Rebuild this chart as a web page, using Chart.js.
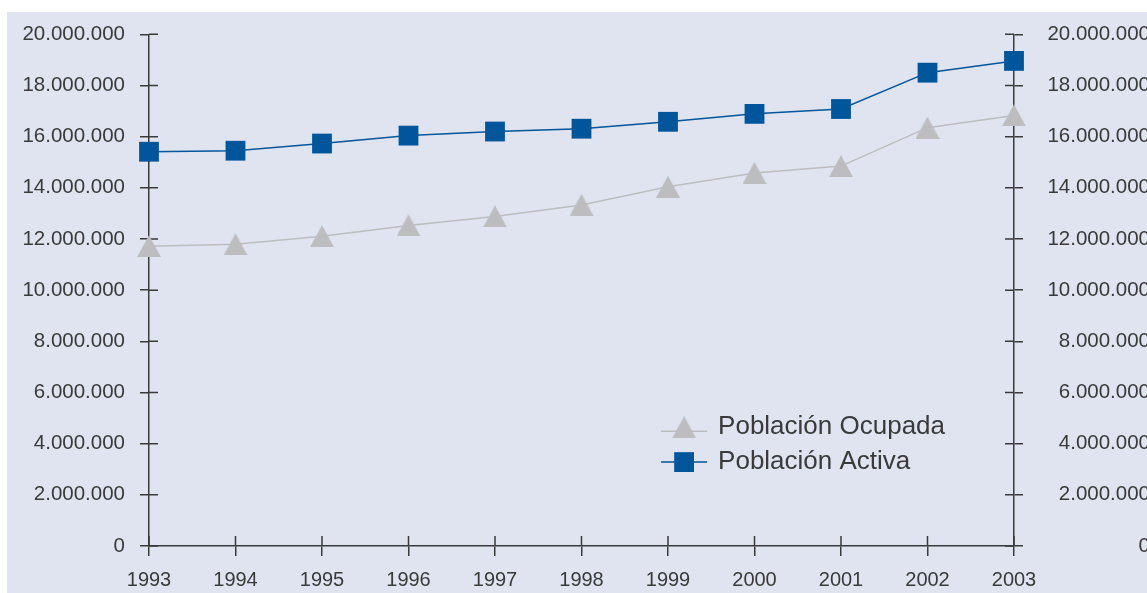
<!DOCTYPE html>
<html>
<head>
<meta charset="utf-8">
<script src="https://cdn.jsdelivr.net/npm/chart.js@4"></script>
<style>
html, body { margin: 0; padding: 0; background: #fff; overflow: hidden; width: 1147px; height: 593px; }
#panel { position: absolute; left: 7px; top: 12px; right: 0; bottom: 0; background: #dfe4f0; }
#chart { position: absolute; left: 0; top: 0; }
</style>
</head>
<body>
<div id="panel"></div>
<canvas id="chart" width="1150" height="593"></canvas>
<script>
const years = ["1993", "1994", "1995", "1996", "1997", "1998", "1999", "2000", "2001", "2002", "2003"]
const ocupada = [11720000, 11790000, 12110000, 12530000, 12880000, 13330000, 14040000, 14580000, 14850000, 16350000, 16830000]
const activa = [15410000, 15450000, 15730000, 16040000, 16200000, 16310000, 16580000, 16890000, 17080000, 18500000, 18960000]
const yMin = 0
const yMax = 20000000
const yStep = 2000000

const blue = "#00559b"
const grey = "#bdbdc0"
const axisColor = "#3a3a3a"
const textColor = "#3a3a3a"

function fmt(v){
  return String(v).replace(/\B(?=(\d{3})+(?!\d))/g, ".")
}

// triangle marker centred on the point (half above, half below the line)
function triangleMarker(color){
  const c = document.createElement("canvas")
  c.width = 24
  c.height = 22
  const g = c.getContext("2d")
  g.fillStyle = color
  g.beginPath()
  g.moveTo(12, 0)
  g.lineTo(24, 22)
  g.lineTo(0, 22)
  g.closePath()
  g.fill()
  return c
}
const triMarker = triangleMarker(grey)

// ticks crossing the axis line (inner half)
const innerTicks = {
  id: "innerTicks",
  beforeDatasetsDraw(chart){
    const ctx = chart.ctx
    const a = chart.chartArea
    ctx.save()
    ctx.strokeStyle = axisColor
    ctx.lineWidth = 1.5
    ctx.beginPath()
    chart.scales.y.ticks.forEach((t, i) => {
      const py = chart.scales.y.getPixelForTick(i)
      ctx.moveTo(a.left, py); ctx.lineTo(a.left + 9, py)
      ctx.moveTo(a.right - 9, py); ctx.lineTo(a.right, py)
    })
    chart.scales.x.ticks.forEach((t, i) => {
      const px = chart.scales.x.getPixelForTick(i)
      ctx.moveTo(px, a.bottom); ctx.lineTo(px, a.bottom - 10)
    })
    ctx.stroke()
    ctx.restore()
  }
}

// legend inside the plot
const innerLegend = {
  id: "innerLegend",
  afterDraw(chart){
    const ctx = chart.ctx
    const a = chart.chartArea
    const lx = a.left + (a.right - a.left) * 0.592
    const rows = [a.top + (a.bottom - a.top) * 0.768, a.top + (a.bottom - a.top) * 0.836]
    const lineShift = [4, 0]
    ctx.save()
    chart.data.datasets.forEach((ds, i) => {
      const y = rows[i]
      ctx.strokeStyle = ds.borderColor
      ctx.lineWidth = 1.5
      ctx.beginPath()
      ctx.moveTo(lx, y + lineShift[i]); ctx.lineTo(lx + 46, y + lineShift[i])
      ctx.stroke()
      ctx.fillStyle = ds.pointBackgroundColor
      Chart.helpers.drawPoint(ctx, {pointStyle: ds.pointStyle, radius: ds.pointRadius, rotation: 0, borderWidth: 0}, lx + 23, y)
      ctx.fillStyle = textColor
      ctx.font = "26px 'Liberation Sans', Arial, sans-serif"
      ctx.textBaseline = "middle"
      ctx.textAlign = "left"
      ctx.fillText(ds.label, lx + 57, y)
    })
    ctx.restore()
  }
}

const tickFont = {family: "'Liberation Sans', Arial, sans-serif", size: 20.5}

new Chart(document.getElementById("chart"), {
  type: "line",
  data: {
    labels: years,
    datasets: [{
      label: "Población Ocupada",
      data: ocupada,
      borderColor: grey,
      borderWidth: 1.5,
      pointStyle: triMarker,
      pointRadius: 14,
      pointBackgroundColor: grey,
      pointBorderWidth: 0,
      pointHoverRadius: 14,
      clip: false,
      yAxisID: "y"
    }, {
      label: "Población Activa",
      data: activa,
      borderColor: blue,
      borderWidth: 1.5,
      pointStyle: "rect",
      pointRadius: 14,
      pointBackgroundColor: blue,
      pointBorderWidth: 0,
      pointHoverRadius: 14,
      clip: false,
      yAxisID: "y"
    }]
  },
  options: {
    responsive: false,
    animation: false,
    events: [],
    layout: {padding: {top: 33, left: 0, right: 0, bottom: 0}},
    plugins: {legend: {display: false}, tooltip: {enabled: false}},
    scales: {
      x: {
        type: "category",
        offset: false,
        grid: {drawOnChartArea: false, drawTicks: true, tickLength: 10, color: axisColor, lineWidth: 1.5},
        border: {display: true, color: axisColor, width: 1.5},
        ticks: {color: textColor, font: {family: "'Liberation Sans', Arial, sans-serif", size: 20}, padding: 12, maxRotation: 0, autoSkip: false},
        afterFit(s){ s.height = 47 }
      },
      y: {
        position: "left",
        min: yMin, max: yMax,
        grid: {drawOnChartArea: false, drawTicks: true, tickLength: 9, color: axisColor, lineWidth: 1.5},
        border: {display: true, color: axisColor, width: 1.5},
        ticks: {stepSize: yStep, color: textColor, font: tickFont, padding: 15, callback: v => fmt(v)},
        afterFit(s){ s.width = 149 }
      },
      y2: {
        position: "right",
        min: yMin, max: yMax,
        grid: {drawOnChartArea: false, drawTicks: true, tickLength: 9, color: axisColor, lineWidth: 1.5},
        border: {display: true, color: axisColor, width: 1.5},
        ticks: {stepSize: yStep, color: textColor, font: tickFont, padding: 22, crossAlign: "far", callback: v => fmt(v)},
        afterFit(s){ s.width = 136 }
      }
    }
  },
  plugins: [innerTicks, innerLegend]
})
</script>
</body>
</html>
